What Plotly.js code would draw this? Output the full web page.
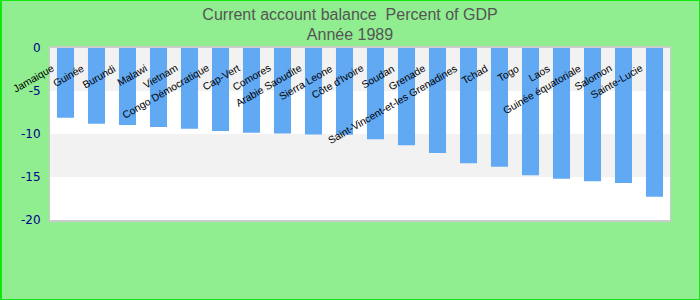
<!DOCTYPE html>
<html>
<head>
<meta charset="utf-8">
<script src="https://cdn.plot.ly/plotly-3.0.1.min.js"></script>
<style>
html,body{margin:0;padding:0;background:#90ee90;}
#wrap{position:relative;width:700px;height:300px;}
#frame{position:absolute;left:0;top:0;width:700px;height:300px;box-sizing:border-box;border:1px solid #11e611;border-left-width:2px;pointer-events:none;}
</style>
</head>
<body>
<div id="wrap"><div id="chart"></div><div id="frame"></div></div>
<script>
const countries = ["Jamaique","Guinée","Burundi","Malawi","Vietnam","Congo Démocratique","Cap-Vert","Comores","Arabie Saoudite","Sierra Leone","Côte d'Ivoire","Soudan","Grenade","Saint-Vincent-et-les Grenadines","Tchad","Togo","Laos","Guinée équatoriale","Salomon","Sainte-Lucie"];
const balance = [-8.1,-8.8,-8.95,-9.2,-9.4,-9.65,-9.85,-9.95,-10.05,-10.1,-10.6,-11.3,-12.2,-13.4,-13.8,-14.8,-15.2,-15.5,-15.7,-17.3];
const yTicks = [0,-5,-10,-15,-20];
const titleLines = ["Current account balance  Percent of GDP","Année 1989"];

const bands = [];
for (let i = 0; i + 1 < yTicks.length; i += 2) {
  bands.push({type:'rect', xref:'paper', yref:'y', x0:0, x1:1, y0:yTicks[i], y1:yTicks[i+1],
    fillcolor:'#f2f2f2', line:{width:0}, layer:'below'});
}
const labels = countries.map((c) => ({
  x: c, y: 0, xref:'x', yref:'y', text: c, showarrow:false, textangle:-30,
  xanchor:'right', yanchor:'top', xshift:-7, yshift:-12,
  font:{family:'Liberation Sans, Arial, sans-serif', size:10.4, color:'#000'}
}));

Plotly.newPlot('chart', [{
  type:'bar', x: countries, y: balance,
  marker:{color:'#62a9f4'}, hoverinfo:'x+y'
}], {
  width:700, height:300,
  margin:{l:50, r:30, t:48, b:80},
  paper_bgcolor:'#90ee90', plot_bgcolor:'#ffffff',
  title:{text: titleLines.join('<br>'), x:0.5, xanchor:'center', y:0.935, yanchor:'top',
    font:{family:'Liberation Sans, Arial, sans-serif', size:16, color:'#555555'}},
  bargap:0.45,
  xaxis:{range:[-0.5, countries.length - 0.5], autorange:false, showticklabels:false, ticks:'', showgrid:false, zeroline:false,
    showline:true, mirror:true, linecolor:'#cccccc', linewidth:2},
  yaxis:{range:[-20,0], tickvals:yTicks, ticktext:yTicks.map(String), showgrid:false, zeroline:false,
    tickfont:{family:'DejaVu Sans, sans-serif', size:12, color:'#00008b'}, ticklen:0, ticklabelstandoff:6,
    showline:true, mirror:true, linecolor:'#cccccc', linewidth:1},
  shapes: bands,
  annotations: labels,
  showlegend:false
}, {displayModeBar:false, staticPlot:true});
</script>
</body>
</html>
